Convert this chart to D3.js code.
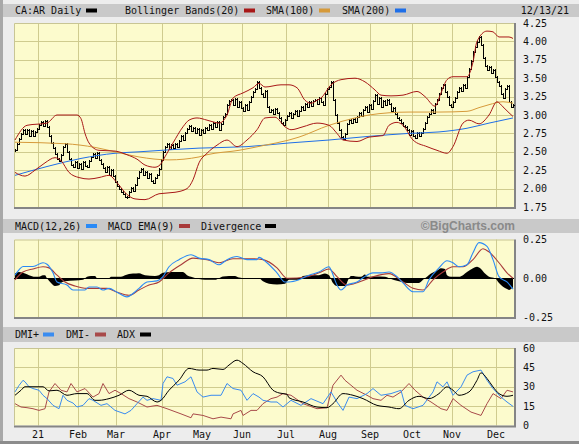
<!DOCTYPE html>
<html>
<head>
<meta charset="utf-8">
<script src="https://cdn.jsdelivr.net/npm/d3@7"></script>
<style>
    body { margin: 0; background: #ededed; }
    svg { display: block; }
    text { font-family: "DejaVu Sans Mono", monospace; font-size: 10px; fill: #111; }
</style>
</head>
<body>
<div id="chart"></div>
<script>
// ---- Data (day index 0 = mid Dec 2020, 249 = 12/13/21) ----
const closes = [
    2.52, 2.60, 2.68, 2.74, 2.79, 2.74, 2.80, 2.72, 2.78, 2.71,
    2.77, 2.81, 2.86, 2.91, 2.85, 2.92, 2.84, 2.72, 2.62, 2.55,
    2.47, 2.40, 2.37, 2.45, 2.56, 2.60, 2.50, 2.40, 2.32, 2.29,
    2.36, 2.28, 2.34, 2.27, 2.36, 2.31, 2.29, 2.38, 2.43, 2.47,
    2.42, 2.48, 2.39, 2.33, 2.28, 2.22, 2.29, 2.19, 2.25, 2.17,
    2.09, 2.04, 2.00, 1.95, 1.93, 1.89, 1.88, 1.95, 2.01, 1.97,
    2.05, 2.14, 2.22, 2.27, 2.18, 2.23, 2.15, 2.20, 2.11, 2.08,
    2.14, 2.19, 2.27, 2.39, 2.50, 2.57, 2.61, 2.54, 2.59, 2.55,
    2.61, 2.57, 2.65, 2.71, 2.66, 2.75, 2.81, 2.85, 2.78, 2.83,
    2.75, 2.81, 2.73, 2.79, 2.75, 2.83, 2.79, 2.87, 2.81, 2.89,
    2.84, 2.91, 2.79, 2.88, 2.97, 3.01, 3.13, 3.19, 3.21, 3.13,
    3.22, 3.11, 3.17, 3.09, 3.05, 3.14, 3.07, 3.18, 3.24, 3.31,
    3.36, 3.45, 3.37, 3.29, 3.25, 3.33, 3.11, 3.04, 3.07, 3.01,
    3.08, 3.03, 2.96, 2.89, 2.86, 2.93, 2.99, 3.03, 2.96, 3.01,
    3.05, 2.99, 3.06, 3.11, 3.07, 3.15, 3.11, 3.17, 3.12, 3.19,
    3.21, 3.15, 3.23, 3.18, 3.14, 3.28, 3.35, 3.38, 3.45, 3.21,
    3.00, 2.89, 2.80, 2.70, 2.67, 2.74, 2.88, 2.93, 2.89, 2.95,
    2.91, 2.97, 3.03, 2.99, 3.07, 3.11, 3.04, 3.13, 3.08, 3.19,
    3.27, 3.15, 3.23, 3.11, 3.19, 3.13, 3.21, 3.15, 3.06, 3.09,
    3.01, 2.96, 2.93, 2.89, 2.85, 2.84, 2.79, 2.73, 2.78, 2.71,
    2.69, 2.76, 2.71, 2.75, 2.81, 2.89, 2.97, 3.01, 3.07, 3.03,
    3.15, 3.21, 3.29, 3.37, 3.41, 3.31, 3.25, 3.13, 3.11, 3.17,
    3.23, 3.31, 3.37, 3.33, 3.41, 3.37, 3.51, 3.63, 3.73, 3.85,
    3.93, 3.99, 4.06, 3.95, 3.77, 3.66, 3.61, 3.65, 3.57, 3.61,
    3.52, 3.45, 3.40, 3.29, 3.23, 3.35, 3.39, 3.17, 3.11, 3.14
];

// [day, value] pairs
const bbUpper = [[0,2.66],[6,2.86],[16,2.89],[21,3.00],[31,3.00],[33,2.95],[35,2.75],[37,2.62],[42,2.52],[50,2.51],
    [56,2.46],[61,2.40],[65,2.32],[70,2.29],[72,2.31],[76,2.48],[79,2.62],[84,2.84],[87,2.93],[91,2.96],
    [96,2.93],[100,2.90],[102,2.89],[106,3.00],[109,3.23],[114,3.30],[119,3.37],[122,3.43],[125,3.38],[133,3.41],
    [137,3.41],[141,3.37],[145,3.20],[148,3.16],[151,3.20],[153,3.23],[158,3.41],[163,3.48],[170,3.50],[175,3.45],
    [180,3.34],[183,3.27],[188,3.26],[194,3.27],[201,3.32],[205,3.25],[210,3.12],[213,3.30],[216,3.48],[219,3.52],
    [226,3.52],[229,3.72],[231,4.00],[236,4.14],[239,4.13],[242,4.06],[247,4.06],[249,4.04]];

const bbLower = [[0,2.22],[5,2.17],[10,2.25],[15,2.35],[20,2.42],[23,2.38],[27,2.22],[32,2.15],[37,2.13],[42,2.15],
    [47,2.18],[51,2.08],[56,1.92],[60,1.86],[65,1.85],[72,1.93],[80,1.95],[86,2.00],[89,2.12],[92,2.35],
    [96,2.48],[101,2.59],[106,2.66],[111,2.57],[116,2.66],[121,2.80],[125,2.96],[130,2.97],[135,2.84],[138,2.80],
    [144,2.84],[151,2.89],[157,2.86],[161,2.75],[164,2.66],[171,2.64],[177,2.70],[184,2.72],[187,2.86],[191,2.90],
    [194,2.86],[199,2.66],[206,2.57],[211,2.52],[216,2.48],[219,2.57],[224,2.89],[227,2.93],[232,2.88],[237,3.00],
    [241,3.18],[244,3.11],[247,3.03],[249,2.98]];

const sma100 = [[0,2.63],[25,2.61],[40,2.56],[50,2.50],[62,2.43],[77,2.39],[92,2.43],[96,2.46],[112,2.52],[125,2.59],
    [137,2.66],[142,2.70],[157,2.86],[170,2.96],[177,3.00],[187,3.03],[197,3.04],[212,3.04],[226,3.05],[232,3.10],
    [237,3.14],[244,3.18],[249,3.16]];

const sma200 = [[0,2.18],[16,2.30],[33,2.41],[50,2.48],[62,2.50],[79,2.53],[92,2.55],[116,2.57],[137,2.62],[157,2.66],
    [177,2.71],[197,2.75],[212,2.77],[226,2.82],[237,2.89],[249,2.96]];

const macdLine = [[0,0.02],[2,0.054],[4,0.076],[9,0.076],[14,0.10],[16,0.09],[19,0.035],[21,-0.024],[26,-0.044],[29,-0.076],
    [35,-0.076],[37,-0.056],[41,-0.056],[44,-0.076],[47,-0.065],[51,-0.09],[56,-0.12],[59,-0.098],[62,-0.065],[66,-0.024],
    [71,-0.017],[74,0.01],[77,0.074],[82,0.12],[88,0.152],[92,0.13],[97,0.12],[102,0.087],[106,0.12],[111,0.14],
    [116,0.12],[121,0.12],[122,0.135],[126,0.10],[131,0.035],[135,-0.024],[137,-0.024],[142,-0.01],[147,0.02],[152,0.04],
    [157,0.074],[158,0.054],[161,-0.044],[163,-0.076],[166,-0.044],[171,-0.024],[174,0.003],[179,0.035],[183,0.035],[187,0.04],
    [191,0.01],[194,-0.03],[199,-0.087],[204,-0.087],[207,-0.01],[212,0.067],[216,0.113],[219,0.10],[222,0.074],[226,0.087],
    [229,0.165],[232,0.23],[236,0.205],[239,0.12],[242,0.01],[246,-0.024],[249,-0.07]];

const macdEma = [[0,-0.01],[4,0.04],[9,0.06],[14,0.074],[17,0.067],[21,0.02],[25,-0.024],[30,-0.05],[36,-0.065],[41,-0.065],
    [46,-0.065],[51,-0.09],[57,-0.11],[62,-0.076],[67,-0.044],[72,-0.024],[77,0.035],[83,0.087],[89,0.13],[96,0.12],
    [102,0.10],[109,0.126],[119,0.126],[124,0.12],[131,0.067],[136,0.0],[146,0.01],[152,0.035],[157,0.06],[161,0.01],
    [166,-0.044],[172,-0.024],[179,0.01],[187,0.03],[194,-0.024],[199,-0.065],[204,-0.076],[209,-0.01],[214,0.04],[219,0.074],
    [224,0.074],[229,0.12],[234,0.19],[237,0.17],[242,0.10],[246,0.035],[249,0.0]];

const divergence = [[0,0.03],[2,0.04],[5,0.03],[7,0.02],[10,0.01],[12,0.01],[14,0.02],[15,0.02],[16,0.0],[18,-0.03],
    [20,-0.05],[22,-0.045],[23,-0.03],[25,-0.02],[30,-0.015],[34,-0.01],[35,0.0],[36,0.01],[38,0.015],[40,0.015],
    [41,0.0],[43,-0.005],[47,0.0],[48,0.01],[53,0.01],[55,0.02],[59,0.03],[62,0.033],[65,0.02],[70,0.015],
    [72,0.02],[74,0.035],[78,0.04],[84,0.04],[86,0.02],[88,0.01],[92,-0.005],[95,-0.01],[100,-0.01],[102,0.0],
    [104,0.012],[110,0.015],[112,0.005],[115,0.0],[122,0.0],[124,-0.02],[127,-0.035],[131,-0.04],[135,-0.035],[137,-0.01],
    [142,-0.01],[144,0.015],[148,0.02],[152,0.02],[155,0.03],[157,0.02],[159,-0.03],[161,-0.05],[165,-0.05],[167,0.0],
    [168,0.015],[173,0.01],[175,0.025],[176,0.01],[180,0.012],[185,0.01],[187,0.0],[192,-0.02],[196,-0.03],[202,-0.03],
    [204,-0.01],[206,0.01],[208,0.03],[211,0.05],[213,0.065],[215,0.06],[216,0.02],[218,0.01],[222,0.01],[224,0.02],
    [226,0.04],[229,0.065],[231,0.074],[233,0.06],[235,0.03],[237,0.01],[240,0.0],[242,-0.03],[244,-0.055],[246,-0.07],
    [247,-0.075],[249,-0.06]];

const adx = [[0,23.4],[3,27.3],[5,30],[9,30],[14,30],[17,26.8],[21,27.3],[26,23.4],[31,24.7],[36,24.7],
    [40,19.5],[42,19.5],[47,20.8],[52,23.4],[57,27.3],[62,23.4],[66,22.6],[71,18.2],[73,19.5],[77,27.3],
    [82,35],[87,44.2],[92,42.9],[96,42.9],[99,44.2],[104,43.4],[107,46.8],[111,50.6],[114,48],[119,41.6],
    [124,37.7],[129,27.3],[132,25.2],[136,24.2],[137,21.5],[144,18.2],[151,14.3],[156,13.8],[159,16.9],[164,24.7],
    [169,23.4],[174,20.8],[181,15.6],[187,14.3],[192,13],[197,19.5],[202,22.6],[207,20.8],[212,24.7],[216,29.9],
    [219,27.3],[222,23.4],[227,26],[231,35],[233,40.8],[236,36.4],[239,29.9],[242,24.7],[246,22.6],[249,23.4]];

const dmiPlus = [[0,26],[2,31],[4,35],[5,33.8],[7,30],[9,28.6],[12,27.3],[14,23.4],[16,20.8],[19,15.6],
    [22,13],[24,23.4],[26,19.5],[29,17.4],[31,14.3],[34,15.6],[37,20.8],[39,19.5],[43,15.6],[46,16.9],
    [50,11.7],[55,9],[58,11.7],[61,16.9],[64,22],[66,19.5],[69,20.8],[73,19.5],[74,32.5],[76,37.7],
    [79,36.4],[81,31.2],[85,33.8],[88,37.7],[91,26],[94,22],[98,23.4],[103,23.4],[106,32.5],[109,28.6],
    [113,27.3],[116,19.5],[119,24.7],[122,22],[124,19.5],[128,18.2],[131,18.2],[134,14.3],[136,16.9],[138,19.5],
    [143,15.6],[148,20.8],[154,16.9],[158,26],[161,18.2],[164,11.7],[167,22],[171,20.8],[176,24.7],[179,28.6],
    [183,23.4],[188,24.7],[193,27.3],[195,15.6],[199,13],[204,15.6],[209,26],[211,33.8],[214,29.9],[216,33.8],
    [219,23.4],[223,29.9],[226,39],[229,41.6],[233,42.9],[236,35],[239,28.6],[243,22],[246,18.2],[249,14.8]];

const dmiMinus = [[0,16.9],[3,14.3],[6,13.8],[9,13],[12,11.7],[15,13],[17,26],[20,32.5],[23,27.3],[26,26],
    [28,32.5],[31,26],[35,28.6],[39,22],[42,24.7],[44,32.5],[47,24.7],[50,27.3],[53,24.7],[57,20.8],
    [61,18.2],[66,14.3],[71,15.6],[76,13],[83,9],[88,6],[89,9],[94,7.8],[99,5.2],[103,6.5],
    [108,5.2],[109,9],[113,11.7],[114,7.8],[118,11.7],[121,11.7],[124,16.9],[128,20.8],[131,22],[134,24.7],
    [138,23.4],[144,16.9],[151,13],[156,13.8],[159,31.2],[163,39],[165,35],[171,27.3],[176,23.4],[179,20.8],
    [183,19.5],[186,23.4],[189,22],[193,26],[197,32.5],[200,27.3],[204,22],[208,18.2],[213,13],[216,11.7],
    [219,20.8],[223,15.6],[228,10.4],[233,7.8],[236,16.9],[239,24.7],[243,20.8],[246,27.3],[249,26]];

const monthDays = [12, 32, 51, 74, 94, 114, 136, 157, 178, 199, 219, 241];
const monthLabels = ["21", "Feb", "Mar", "Apr", "May", "Jun", "Jul", "Aug", "Sep", "Oct", "Nov", "Dec"];
const priceTicks = [4.25, 4.00, 3.75, 3.50, 3.25, 3.00, 2.75, 2.50, 2.25, 2.00, 1.75];
const macdTicks = [0.25, 0.00, -0.25];
const dmiTicks = [60, 45, 30, 15, 0];

// ---- Setup ----
const width = 579, height = 444;
const plotLeft = 14, plotRight = 514;
const gridColor = "#cfcb8f";
const plotBg = "#fcfbcd";

const svg = d3.select("#chart").append("svg")
    .attr("width", width)
    .attr("height", height);

svg.append("rect").attr("width", width).attr("height", height).attr("fill", "#ededed");
svg.append("rect").attr("x", 0).attr("y", 0).attr("width", 3).attr("height", height).attr("fill", "#a8a8a8");
svg.append("rect").attr("x", 0).attr("y", 441).attr("width", width).attr("height", 3).attr("fill", "#8c8c8c");

const x = d3.scaleLinear().domain([-0.5, 249.5]).range([plotLeft, plotRight]);

const yPrice = d3.scaleLinear().domain([1.75, 4.25]).range([207, 23]);
const yMacd = d3.scaleLinear().domain([-0.25, 0.25]).range([317, 239.5]);
const yDmi = d3.scaleLinear().domain([0, 60]).range([425.5, 348]);

// panel frame, bg and grid
function panel(y, hTicks, labels, fmt) {
    const [bottom, top] = y.range();
    const g = svg.append("g");

    g.append("rect")
        .attr("x", plotLeft)
        .attr("y", top)
        .attr("width", plotRight - plotLeft)
        .attr("height", bottom - top)
        .attr("fill", plotBg);

    g.selectAll(".hgrid")
        .data(hTicks)
        .enter()
        .append("line")
        .attr("x1", plotLeft)
        .attr("x2", plotRight)
        .attr("y1", d => Math.round(y(d)) + 0.5)
        .attr("y2", d => Math.round(y(d)) + 0.5)
        .attr("stroke", gridColor);

    g.selectAll(".vgrid")
        .data(monthDays)
        .enter()
        .append("line")
        .attr("x1", d => Math.round(x(d) - 1) + 0.5)
        .attr("x2", d => Math.round(x(d) - 1) + 0.5)
        .attr("y1", top)
        .attr("y2", bottom)
        .attr("stroke", gridColor);

    // frame: light top/left, shadow bottom/right
    g.append("path")
        .attr("d", `M${plotLeft + 0.5},${bottom} V${top + 0.5} H${plotRight}`)
        .attr("fill", "none")
        .attr("stroke", "#c8c594");
    g.append("path")
        .attr("d", `M${plotLeft},${bottom + 1} H${plotRight + 1} V${top}`)
        .attr("fill", "none")
        .attr("stroke", "#858585")
        .attr("stroke-width", 2);

    svg.append("g")
        .selectAll("text")
        .data(labels)
        .enter()
        .append("text")
        .attr("x", 523)
        .attr("y", d => y(d))
        .attr("dy", "0.36em")
        .text(fmt);

    return g;
}

function titleBar(y0, h) {
    svg.append("rect")
        .attr("x", 3)
        .attr("y", y0)
        .attr("width", width - 3)
        .attr("height", h)
        .attr("fill", "#c9c9c9");
}

function legend(items, yMid) {
    items.forEach(d => {
        svg.append("text")
            .attr("x", d.x)
            .attr("y", yMid)
            .attr("dy", "0.36em")
            .text(d.label);
        svg.append("rect")
            .attr("x", d.sx)
            .attr("y", yMid - 2)
            .attr("width", 11)
            .attr("height", 4)
            .attr("fill", d.color);
    });
}

const smooth = (y) => d3.line().x(d => x(d[0])).y(d => y(d[1])).curve(d3.curveMonotoneX);
const jagged = (y) => d3.line().x(d => x(d[0])).y(d => y(d[1]));

// ---- Price panel ----
titleBar(4, 13);
legend([
    { label: "CA:AR Daily", x: 15, sx: 86, color: "#000" },
    { label: "Bollinger Bands(20)", x: 125, sx: 244, color: "#a81818" },
    { label: "SMA(100)", x: 266, sx: 319, color: "#d69a3a" },
    { label: "SMA(200)", x: 342, sx: 395, color: "#1f6fe8" }
], 10.5);
svg.append("text")
    .attr("x", 569)
    .attr("y", 10.5)
    .attr("dy", "0.36em")
    .attr("text-anchor", "end")
    .text("12/13/21");

const pricePanel = panel(yPrice, priceTicks.slice(1, -1), priceTicks, d => d.toFixed(2));

const ohlc = closes.map((c, i) => ({ i, open: i ? closes[i - 1] : c, close: c }));

pricePanel.append("g")
    .selectAll("path")
    .data(ohlc)
    .enter()
    .append("path")
    .attr("d", d => {
        const cx = Math.round(x(d.i)) + 0.5;
        const hi = Math.round(yPrice(Math.max(d.open, d.close)));
        const lo = Math.round(yPrice(Math.min(d.open, d.close)));
        const yo = Math.round(yPrice(d.open)) + 0.5;
        const yc = Math.round(yPrice(d.close)) + 0.5;
        return `M${cx},${hi - 1}V${Math.max(lo, hi + 1) + 1}M${cx - 1},${yo}H${cx}M${cx},${yc}H${cx + 1}`;
    })
    .attr("fill", "none")
    .attr("stroke", "#000")
    .attr("stroke-width", 1)
    .attr("shape-rendering", "crispEdges");

[[sma200, "#1f6fe8"], [sma100, "#d69a3a"], [bbUpper, "#a81818"], [bbLower, "#a81818"]].forEach(([data, color]) => {
    pricePanel.append("path")
        .datum(data)
        .attr("d", smooth(yPrice))
        .attr("fill", "none")
        .attr("stroke", color)
        .attr("stroke-width", 1);
});

// ---- MACD panel ----
titleBar(219, 14);
legend([
    { label: "MACD(12,26)", x: 15, sx: 86, color: "#2a8af6" },
    { label: "MACD EMA(9)", x: 108, sx: 179, color: "#a83a3a" },
    { label: "Divergence", x: 201, sx: 265, color: "#000" }
], 226);
svg.append("text")
    .attr("x", 515)
    .attr("y", 226)
    .attr("dy", "0.36em")
    .attr("text-anchor", "end")
    .style("font-family", "'Liberation Sans', Arial, sans-serif")
    .style("font-size", "12px")
    .style("font-weight", "bold")
    .style("fill", "#8a8a8a")
    .text("©BigCharts.com");

const macdPanel = panel(yMacd, [], macdTicks, d => d.toFixed(2));

macdPanel.append("path")
    .datum(divergence)
    .attr("d", d3.area().x(d => x(d[0])).y0(yMacd(0)).y1(d => yMacd(d[1])).curve(d3.curveMonotoneX))
    .attr("fill", "#000");

macdPanel.append("line")
    .attr("x1", plotLeft)
    .attr("x2", plotRight)
    .attr("y1", Math.round(yMacd(0)) + 0.5)
    .attr("y2", Math.round(yMacd(0)) + 0.5)
    .attr("stroke", "#000");

[[macdEma, "#a83a3a"], [macdLine, "#2a8af6"]].forEach(([data, color]) => {
    macdPanel.append("path")
        .datum(data)
        .attr("d", smooth(yMacd))
        .attr("fill", "none")
        .attr("stroke", color)
        .attr("stroke-width", 1.1);
});

// ---- DMI panel ----
titleBar(327, 15);
legend([
    { label: "DMI+", x: 15, sx: 43, color: "#3a8cf0" },
    { label: "DMI-", x: 66, sx: 95, color: "#a84a4a" },
    { label: "ADX", x: 117, sx: 140, color: "#000" }
], 334.5);

const dmiPanel = panel(yDmi, [15, 30, 45], dmiTicks, d => d);

dmiPanel.append("path")
    .datum(dmiMinus)
    .attr("d", jagged(yDmi))
    .attr("fill", "none")
    .attr("stroke", "#a84a4a")
    .attr("stroke-width", 1);

dmiPanel.append("path")
    .datum(dmiPlus)
    .attr("d", jagged(yDmi))
    .attr("fill", "none")
    .attr("stroke", "#3a8cf0")
    .attr("stroke-width", 1);

dmiPanel.append("path")
    .datum(adx)
    .attr("d", smooth(yDmi))
    .attr("fill", "none")
    .attr("stroke", "#000")
    .attr("stroke-width", 1);

// ---- Month labels ----
svg.append("g")
    .selectAll("text")
    .data(monthDays)
    .enter()
    .append("text")
    .attr("x", d => x(d) - 1)
    .attr("y", 438)
    .attr("text-anchor", "middle")
    .text((d, i) => monthLabels[i]);
</script>
</body>
</html>
